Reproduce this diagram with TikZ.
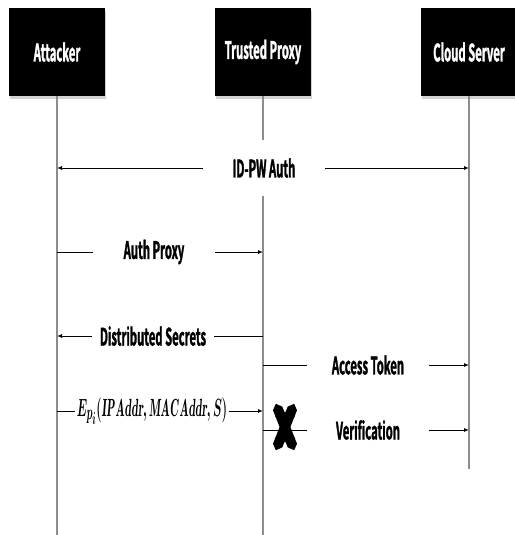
\documentclass[tikz,border=0pt]{standalone}
\usepackage{fontspec}
\newfontfamily\lblfont{Noto Sans CJK KR Bold}[FakeStretch=0.47,FakeBold=1.2]
\usetikzlibrary{arrows.meta,shadows}

\begin{document}
\begin{tikzpicture}[x=1pt, y=-1pt, >={Latex[length=5pt,width=4pt]},
  actor/.style={fill=black, text=white, minimum width=96pt, minimum height=88pt,
    font=\lblfont\fontsize{24}{27}\selectfont,
    drop shadow={shadow xshift=1pt, shadow yshift=-3pt, opacity=0.35}},
  life/.style={draw=black!45, line width=1.1pt},
  msg/.style={fill=white, minimum width=122pt, inner sep=0pt,
    font=\lblfont\fontsize{24}{27}\selectfont},
  flow/.style={line width=0.9pt},
  cross/.style={line width=10pt, {Triangle Cap}-{Triangle Cap}}]
  \useasboundingbox (0,0) rectangle (514,535);

  % Actors
  \node[actor] (att) at (57,52) {Attacker};
  \node[actor] (proxy) at (263,52) {Trusted Proxy};
  \node[actor] (cloud) at (469,52) {Cloud Server};
  \coordinate (bottom) at (0,535);
  \coordinate (cloudend) at (469,469);

  % Lifelines
  \draw[life] (att.south) -- (att |- bottom);
  \draw[life] (proxy.south) -- (proxy |- bottom);
  \draw[life] (cloud.south) -- (cloudend);

  % Messages
  \node[msg, minimum height=56pt] (idpw) at (264,168) {ID-PW Auth};
  \draw[flow,<-] (att |- idpw) -- (idpw.west);
  \draw[flow,->] (idpw.east) -- (cloud |- idpw);

  \node[msg] (authp) at (154,252) {Auth Proxy};
  \draw[flow] (att |- authp) -- (authp.west);
  \draw[flow,->] (authp.east) -- (proxy |- authp);

  \node[msg] (dist) at (153,336) {Distributed Secrets};
  \draw[flow,<-] (att |- dist) -- (dist.west);
  \draw[flow] (dist.east) -- (proxy |- dist);

  \node[msg] (token) at (368,365) {Access Token};
  \draw[flow] (proxy |- token) -- (token.west);
  \draw[flow,->] (token.east) -- (cloud |- token);

  \node[msg, minimum width=154pt] (enc) at (152,411)
    {\scalebox{0.48}[1]{\fontsize{24.88}{28}\selectfont\boldmath
     $E_{p_{i}}(\mathit{IP\ Addr}, \mathit{MAC\ Addr}, S)$}};
  \draw[flow] (att |- enc) -- (enc.west);
  \draw[flow,->] (enc.east) -- (proxy |- enc);

  \node[msg] (verif) at (368,430) {Verification};
  \draw[flow] (proxy |- verif) -- (verif.west);
  \draw[flow,->] (verif.east) -- (cloud |- verif);

  % Blocked step
  \node[minimum width=18pt, minimum height=46pt, inner sep=0pt] (block) at (285,427) {};
  \draw[cross] (block.north west) -- (block.south east);
  \draw[cross] (block.north east) -- (block.south west);
\end{tikzpicture}
\end{document}
